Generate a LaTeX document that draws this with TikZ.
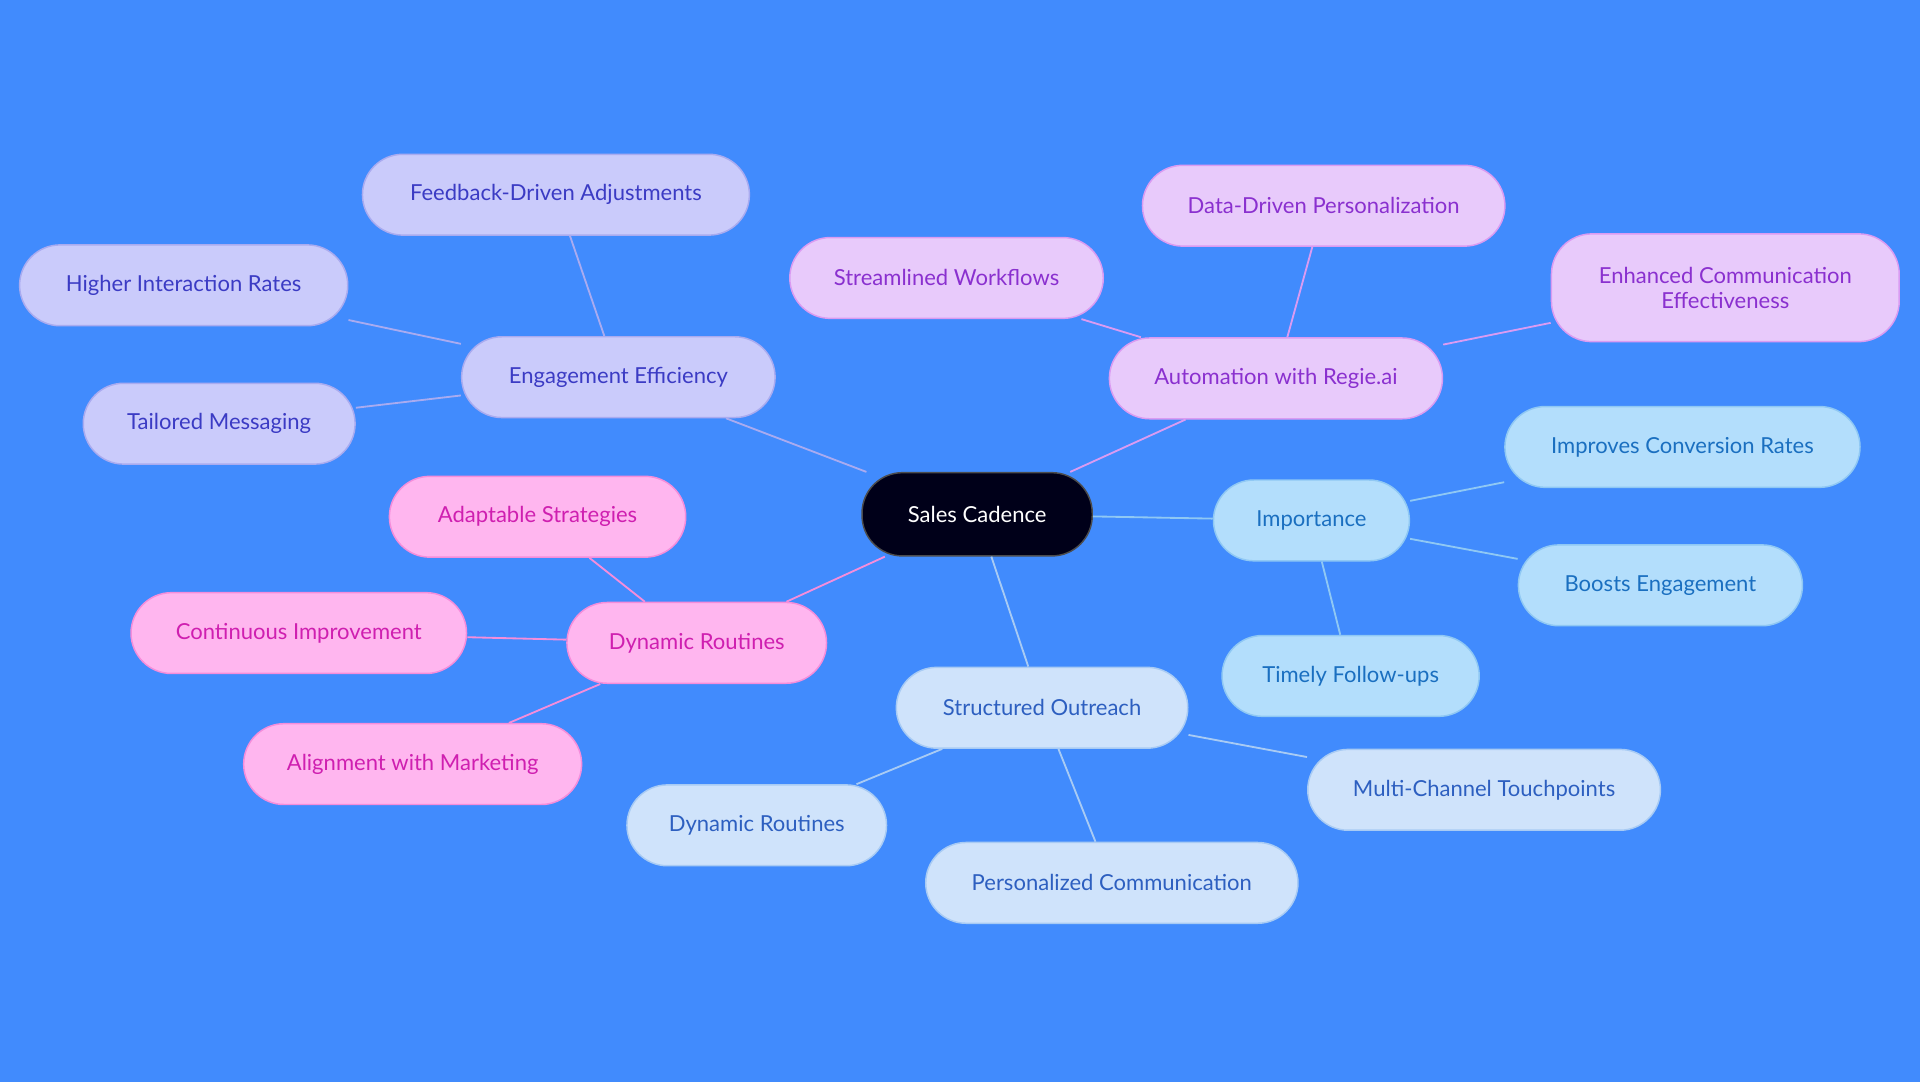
\documentclass[tikz,border=0pt]{standalone}
\usepackage{fontspec}
\setmainfont{Lato}
\definecolor{bg}{HTML}{418BFD}
\definecolor{lavfill}{HTML}{CACBFB}\definecolor{lavtext}{HTML}{3B3BC4}\definecolor{lavline}{HTML}{A9ABF0}
\definecolor{purfill}{HTML}{E8CAFB}\definecolor{purtext}{HTML}{8A30CF}\definecolor{purline}{HTML}{DA9BF2}
\definecolor{cyafill}{HTML}{B3DEFC}\definecolor{cyatext}{HTML}{1A6FC0}\definecolor{cyaline}{HTML}{8FC8F4}
\definecolor{blufill}{HTML}{CFE3FB}\definecolor{blutext}{HTML}{2D5FC0}\definecolor{bluline}{HTML}{A8CBF4}
\definecolor{pnkfill}{HTML}{FFB6EF}\definecolor{pnktext}{HTML}{CF1FB0}\definecolor{pnkline}{HTML}{F58DDB}
\tikzset{
  box/.style={rounded corners=33pt, minimum height=66pt, line width=1.2pt, align=center,
    font=\fontsize{18}{20}\selectfont, inner sep=0pt},
  lav/.style={box, fill=lavfill, draw=lavline, text=lavtext},
  pur/.style={box, fill=purfill, draw=purline, text=purtext},
  cya/.style={box, fill=cyafill, draw=cyaline, text=cyatext},
  blu/.style={box, fill=blufill, draw=bluline, text=blutext},
  pnk/.style={box, fill=pnkfill, draw=pnkline, text=pnktext},
}
\begin{document}
\begin{tikzpicture}[x=1pt,y=-1pt]
  \fill[bg] (0,0) rectangle (1568,884);
  % centre
  \node[box, fill=black!90!blue, draw=black!70, text=white, minimum width=188pt, minimum height=68pt] (sc) at (798,420) {Sales Cadence};
  % engagement efficiency
  \node[lav, minimum width=256pt] (ee) at (505,308) {Engagement Efficiency};
  \node[lav, minimum width=316pt] (fd) at (454,159) {Feedback-Driven Adjustments};
  \node[lav, minimum width=268pt] (hi) at (150,233) {Higher Interaction Rates};
  \node[lav, minimum width=222pt] (tm) at (179,346) {Tailored Messaging};
  % automation
  \node[pur, minimum width=272pt] (au) at (1042,309) {Automation with Regie.ai};
  \node[pur, minimum width=296pt] (dp) at (1081,168) {Data-Driven Personalization};
  \node[pur, minimum width=256pt] (sw) at (773,227) {Streamlined Workflows};
  \node[pur, minimum width=284pt, minimum height=88pt] (ec) at (1409,235) {Enhanced Communication\\Effectiveness};
  % importance
  \node[cya, minimum width=160pt] (im) at (1071,425) {Importance};
  \node[cya, minimum width=290pt] (ic) at (1374,365) {Improves Conversion Rates};
  \node[cya, minimum width=232pt] (be) at (1356,478) {Boosts Engagement};
  \node[cya, minimum width=210pt] (tf) at (1103,552) {Timely Follow-ups};
  % structured outreach
  \node[blu, minimum width=238pt] (so) at (851,578) {Structured Outreach};
  \node[blu, minimum width=288pt] (mc) at (1212,645) {Multi-Channel Touchpoints};
  \node[blu, minimum width=304pt] (pc) at (908,721) {Personalized Communication};
  \node[blu, minimum width=212pt] (dr) at (618,674) {Dynamic Routines};
  % dynamic routines
  \node[pnk, minimum width=212pt] (dy) at (569,525) {Dynamic Routines};
  \node[pnk, minimum width=242pt] (as) at (439,422) {Adaptable Strategies};
  \node[pnk, minimum width=274pt] (ci) at (244,517) {Continuous Improvement};
  \node[pnk, minimum width=276pt] (am) at (337,624) {Alignment with Marketing};
  % connectors
  \begin{scope}[on background layer/.style={}, line width=1.5pt]
    \draw[lavline] (sc) -- (ee); \draw[lavline] (ee) -- (fd);
    \draw[lavline] (ee) -- (hi); \draw[lavline] (ee) -- (tm);
    \draw[purline] (sc) -- (au); \draw[purline] (au) -- (dp);
    \draw[purline] (au) -- (sw); \draw[purline] (au) -- (ec);
    \draw[cyaline] (sc) -- (im); \draw[cyaline] (im) -- (ic);
    \draw[cyaline] (im) -- (be); \draw[cyaline] (im) -- (tf);
    \draw[bluline] (sc) -- (so); \draw[bluline] (so) -- (mc);
    \draw[bluline] (so) -- (pc); \draw[bluline] (so) -- (dr);
    \draw[pnkline] (sc) -- (dy); \draw[pnkline] (dy) -- (as);
    \draw[pnkline] (dy) -- (ci); \draw[pnkline] (dy) -- (am);
  \end{scope}
\end{tikzpicture}
\end{document}
